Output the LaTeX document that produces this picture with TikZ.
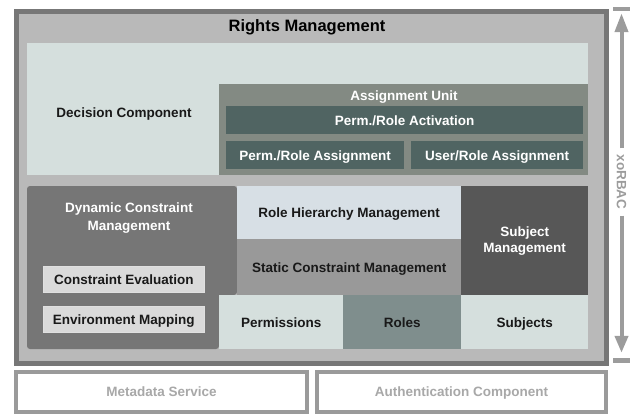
\documentclass[tikz,border=0pt]{standalone}
\usepackage{fontspec}
\setmainfont{Liberation Sans}
\usetikzlibrary{arrows.meta}
\definecolor{frame}{HTML}{777777}
\definecolor{outerfill}{HTML}{B9B9B9}
\definecolor{decfill}{HTML}{D5DFDD}
\definecolor{assignfill}{HTML}{838A83}
\definecolor{tealdark}{HTML}{506462}
\definecolor{dynfill}{HTML}{767676}
\definecolor{hierfill}{HTML}{D7DFE5}
\definecolor{staticfill}{HTML}{999999}
\definecolor{subjfill}{HTML}{575757}
\definecolor{rolesfill}{HTML}{7F8E8D}
\definecolor{evalfill}{HTML}{DADADA}
\definecolor{arrowgray}{HTML}{9C9C9C}
\definecolor{lighttext}{HTML}{A8A8A8}
\definecolor{bottomframe}{HTML}{9A9A9A}
\tikzset{
  lbl/.style={font=\bfseries\fontsize{13.5}{16}\selectfont, inner sep=0pt, align=center},
  oneline/.style={text height=9.7pt, text depth=0pt},
  panel/.style={rectangle, inner sep=0pt, anchor=north west, lbl},
  whitetext/.style={text=white},
  darktext/.style={text=black!90},
}
\begin{document}
\begin{tikzpicture}[x=1pt,y=-1pt]
\useasboundingbox (0,0) rectangle (632,413);
% outer Rights Management frame
\node (rm) [rectangle, draw=frame, line width=5pt, fill=outerfill, anchor=north west, minimum width=589.5pt, minimum height=352pt] at (14,8.5) {};
\node (rmt) [lbl, font=\bfseries\fontsize{16.5}{19}\selectfont] at (307,27) {Rights Management};
% Decision component
\node (dec) [panel, fill=decfill, minimum width=561pt, minimum height=132pt] at (27,43) {};
\node (dect) [lbl, oneline, darktext] at (124,113) {Decision Component};
% Assignment unit
\node (au) [panel, fill=assignfill, minimum width=369pt, minimum height=91pt] at (219,84) {};
\node (aut) [lbl, oneline, whitetext] at (404,96) {Assignment Unit};
\node (act) [panel, oneline, fill=tealdark, whitetext, minimum width=357pt, minimum height=28pt] at (226,106) {Perm./Role Activation};
\node (pra) [panel, oneline, fill=tealdark, whitetext, minimum width=178pt, minimum height=28pt] at (226,141) {Perm./Role Assignment};
\node (ura) [panel, oneline, fill=tealdark, whitetext, minimum width=172pt, minimum height=28pt] at (411,141) {User/Role Assignment};
% Dynamic constraint management (L-shaped)
\fill[dynfill, rounded corners=3pt] (27,186) -- (237,186) -- (237,295) -- (219,295) -- (219,349) -- (27,349) -- cycle;
\node (dyn) [lbl, whitetext, font=\bfseries\fontsize{13.5}{18}\selectfont] at (129,218) {Dynamic Constraint\\Management};
\node (ce) [panel, oneline, fill=evalfill, draw=white!88!black, line width=0.6pt, darktext, minimum width=161pt, minimum height=26pt] at (43,266) {Constraint Evaluation};
\node (em) [panel, oneline, fill=evalfill, draw=white!88!black, line width=0.6pt, darktext, minimum width=161pt, minimum height=26pt] at (43,306) {Environment Mapping};
% middle column
\node (rh) [panel, oneline, fill=hierfill, darktext, minimum width=224pt, minimum height=53pt] at (237,186) {Role Hierarchy Management};
\node (sc) [panel, oneline, fill=staticfill, darktext, minimum width=224pt, minimum height=56pt] at (237,239) {Static Constraint Management};
\node (sm) [panel, fill=subjfill, whitetext, minimum width=127pt, minimum height=109pt] at (461,186) {Subject\\Management};
\node (perm) [panel, oneline, fill=decfill, darktext, minimum width=124pt, minimum height=54pt] at (219,295) {Permissions};
\node (roles) [panel, oneline, fill=rolesfill, darktext, minimum width=118pt, minimum height=54pt] at (343,295) {Roles};
\node (subj) [panel, oneline, fill=decfill, darktext, minimum width=127pt, minimum height=54pt] at (461,295) {Subjects};
% bottom services
\node (meta) [panel, oneline, draw=bottomframe, line width=4pt, fill=white, text=lighttext, minimum width=291pt, minimum height=40pt] at (14,370) {Metadata Service};
\node (auth) [panel, oneline, draw=bottomframe, line width=4pt, fill=white, text=lighttext, minimum width=289pt, minimum height=40pt] at (315,370) {Authentication Component};
% xoRBAC arrow
\node (bartop) [rectangle, fill=arrowgray, inner sep=0pt, minimum width=17pt, minimum height=4pt] at (621.5,9) {};
\node (barbot) [rectangle, fill=arrowgray, inner sep=0pt, minimum width=17pt, minimum height=5pt] at (621.5,360.5) {};
\node (xo) [lbl, text=arrowgray, font=\bfseries\fontsize{13.5}{16}\selectfont, rotate=-90, inner sep=6pt] at (621.5,182) {xoRBAC};
\draw[arrowgray, line width=4pt, -{Triangle[length=19pt, width=13pt]}, shorten >=2pt] (xo.west) -- (bartop.south);
\draw[arrowgray, line width=4pt, -{Triangle[length=17pt, width=13pt]}, shorten >=5pt] (xo.east) -- (barbot.north);
\end{tikzpicture}
\end{document}
